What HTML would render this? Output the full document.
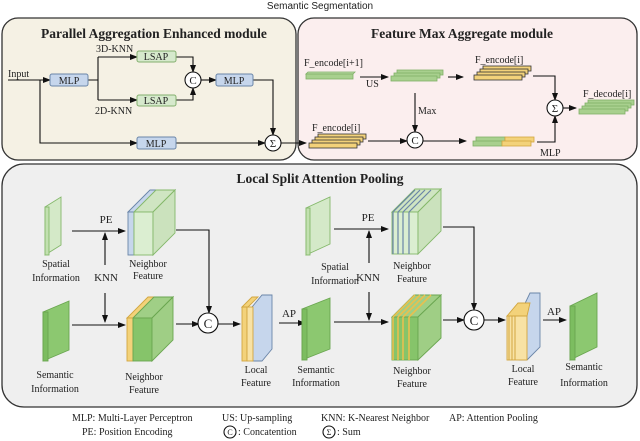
<!DOCTYPE html>
<html><head><meta charset="utf-8"><style>
html,body{margin:0;padding:0;background:#fff;}
svg{display:block;}
text{font-family:"Liberation Serif",serif;font-size:10px;fill:#222;}
.s{font-family:"Liberation Sans",sans-serif;}
.t{font-weight:bold;font-size:13.5px;}
</style></head><body>
<svg width="640" height="441" viewBox="0 0 640 441" xmlns="http://www.w3.org/2000/svg">
<defs>
<marker id="a" markerWidth="8" markerHeight="6" refX="7" refY="3" orient="auto" markerUnits="userSpaceOnUse"><path d="M0,0 L8,3 L0,6 z" fill="#111"/></marker>
</defs>
<text x="320" y="9" text-anchor="middle" class="s" style="font-size:10px">Semantic Segmentation</text>
<!-- panels -->
<rect x="2" y="18" width="294" height="142" rx="16" fill="#f5f1e4" stroke="#333" stroke-width="1.3"/>
<rect x="298" y="18" width="339" height="142" rx="16" fill="#fbeeee" stroke="#333" stroke-width="1.3"/>
<rect x="2" y="164" width="635" height="243" rx="22" fill="#efefef" stroke="#333" stroke-width="1.3"/>
<text x="154" y="38" text-anchor="middle" class="t">Parallel Aggregation Enhanced module</text>
<text x="462" y="38" text-anchor="middle" class="t">Feature Max Aggregate module</text>
<text x="320" y="183" text-anchor="middle" class="t">Local Split Attention Pooling</text>

<g stroke="#111" stroke-width="1.1" fill="none">
<!-- left module -->
<path d="M8,80 H50" marker-end="url(#a)"/>
<path d="M88,80 H98 M98,57 V100"/>
<path d="M98,57 H137" marker-end="url(#a)"/>
<path d="M98,100 H137" marker-end="url(#a)"/>
<path d="M176,57 H193 V72" marker-end="url(#a)"/>
<path d="M176,100 H193 V88" marker-end="url(#a)"/>
<path d="M201,80 H216" marker-end="url(#a)"/>
<path d="M253,80 H273 V135" marker-end="url(#a)"/>
<path d="M40,80 V143 H137" marker-end="url(#a)"/>
<path d="M176,143 H265" marker-end="url(#a)"/>
<path d="M281,143 H306" marker-end="url(#a)"/>
<!-- right module -->
<path d="M360,77 H388" marker-end="url(#a)"/>
<path d="M448,77 H463" marker-end="url(#a)"/>
<path d="M533,76 H555 V100" marker-end="url(#a)"/>
<path d="M563,108 H576" marker-end="url(#a)"/>
<path d="M415,93 V132" marker-end="url(#a)"/>
<path d="M368,141 H407" marker-end="url(#a)"/>
<path d="M423,141 H466" marker-end="url(#a)"/>
<path d="M537,142 H555 V116" marker-end="url(#a)"/>
<!-- bottom left -->
<path d="M72,231 H125" marker-end="url(#a)"/>
<path d="M105,265 V233" marker-end="url(#a)"/>
<path d="M105,293 V322" marker-end="url(#a)"/>
<path d="M72,325 H125" marker-end="url(#a)"/>
<path d="M176,230 H209 V313" marker-end="url(#a)"/>
<path d="M176,324 H199" marker-end="url(#a)"/>
<path d="M218,324 H240" marker-end="url(#a)"/>
<path d="M279,323 H305" marker-end="url(#a)"/>
<!-- bottom right -->
<path d="M334,229 H388" marker-end="url(#a)"/>
<path d="M369,263 V231" marker-end="url(#a)"/>
<path d="M369,292 V320" marker-end="url(#a)"/>
<path d="M334,322 H388" marker-end="url(#a)"/>
<path d="M443,227 H474 V310" marker-end="url(#a)"/>
<path d="M443,320 H464" marker-end="url(#a)"/>
<path d="M484,320 H505" marker-end="url(#a)"/>
<path d="M543,320 H566" marker-end="url(#a)"/>
</g>

<!-- boxes -->
<g stroke-width="1">
<rect x="50" y="74" width="38" height="12" rx="2" fill="#c6d6ec" stroke="#6a85a8"/>
<rect x="216" y="74" width="37" height="12" rx="2" fill="#c6d6ec" stroke="#6a85a8"/>
<rect x="137" y="137" width="39" height="12" rx="2" fill="#c6d6ec" stroke="#6a85a8"/>
<rect x="137" y="51" width="39" height="11" rx="2" fill="#d6e9cc" stroke="#84b06e"/>
<rect x="137" y="95" width="39" height="11" rx="2" fill="#d6e9cc" stroke="#84b06e"/>
</g>
<text x="69" y="84" text-anchor="middle">MLP</text>
<text x="234" y="84" text-anchor="middle">MLP</text>
<text x="156" y="147" text-anchor="middle">MLP</text>
<text x="156" y="60" text-anchor="middle">LSAP</text>
<text x="156" y="104" text-anchor="middle">LSAP</text>
<text x="8" y="77">Input</text>
<text x="96" y="52">3D-KNN</text>
<text x="95" y="114">2D-KNN</text>

<!-- circles -->
<g fill="#fff" stroke="#111" stroke-width="1.1">
<circle cx="193" cy="80" r="8"/><circle cx="273" cy="143" r="8"/>
<circle cx="415" cy="140" r="8"/><circle cx="555" cy="108" r="8"/>
<circle cx="208" cy="323" r="10"/><circle cx="474" cy="320" r="10"/>
<circle cx="230" cy="432" r="6"/><circle cx="329" cy="432" r="6"/>
</g>
<text x="193" y="84" text-anchor="middle" style="font-size:11px">C</text>
<text x="273" y="147" text-anchor="middle" style="font-size:11px">Σ</text>
<text x="415" y="144" text-anchor="middle" style="font-size:11px">C</text>
<text x="555" y="112" text-anchor="middle" style="font-size:11px">Σ</text>
<text x="208" y="328" text-anchor="middle" style="font-size:13px">C</text>
<text x="474" y="325" text-anchor="middle" style="font-size:13px">C</text>

<!-- right module bars -->
<g stroke-width="0.8">
<polygon points="306,74 353,74 355,72 308,72" fill="#b9d9a4" stroke="#7fb067"/>
<rect x="306" y="74" width="47" height="5" fill="#a8d08e" stroke="#7fb067"/>
<g fill="#a8d08e" stroke="#7fb067">
<rect x="397" y="70" width="46" height="5"/><rect x="394" y="73" width="46" height="5"/><rect x="391" y="76" width="46" height="5"/>
</g>
<g fill="#f3d27a" stroke="#333">
<rect x="483" y="66" width="48" height="5"/><rect x="480" y="69" width="48" height="5"/><rect x="477" y="72" width="48" height="5"/><rect x="474" y="75" width="48" height="5"/>
</g>
<g fill="#f3d27a" stroke="#333">
<rect x="318" y="134" width="48" height="5"/><rect x="315" y="137" width="48" height="5"/><rect x="312" y="140" width="48" height="5"/><rect x="309" y="143" width="48" height="5"/>
</g>
<g fill="#a8d08e" stroke="#7fb067">
<rect x="588" y="100" width="46" height="5"/><rect x="585" y="103" width="46" height="5"/><rect x="582" y="106" width="46" height="5"/><rect x="579" y="109" width="46" height="5"/>
</g>
<g stroke-width="0.8">
<rect x="476" y="137" width="29" height="5" fill="#a8d08e" stroke="#7fb067"/><rect x="505" y="137" width="29" height="5" fill="#f3d27a" stroke="#d2a640"/>
<rect x="473" y="141" width="29" height="5" fill="#a8d08e" stroke="#7fb067"/><rect x="502" y="141" width="29" height="5" fill="#f3d27a" stroke="#d2a640"/>
</g>
</g>
<text x="304" y="66">F_encode[i+1]</text>
<text x="366" y="87">US</text>
<text x="475" y="63">F_encode[i]</text>
<text x="312" y="131">F_encode[i]</text>
<text x="418" y="114">Max</text>
<text x="583" y="97">F_decode[i]</text>
<text x="540" y="156">MLP</text>

<!-- bottom: slabs -->
<g stroke-width="0.9">
<!-- spatial left -->
<polygon points="45,207 61,197 61,245 45,255" fill="#d4e9c8" stroke="#84b86a"/>
<rect x="45" y="207" width="4" height="48" fill="#c2e0b0" stroke="#84b86a"/>
<!-- semantic left -->
<polygon points="43,312 69,301 69,350 43,361" fill="#8cc870" stroke="#6aa650"/>
<rect x="43" y="312" width="5" height="49" fill="#7cbd60" stroke="#6aa650"/>
<!-- semantic mid -->
<polygon points="302,309 330,298 330,349 302,360" fill="#8cc870" stroke="#6aa650"/>
<rect x="302" y="309" width="5" height="51" fill="#7cbd60" stroke="#6aa650"/>
<!-- spatial right -->
<polygon points="306,208 330,197 330,244 306,255" fill="#d4e9c8" stroke="#84b86a"/>
<rect x="306" y="208" width="4" height="47" fill="#c2e0b0" stroke="#84b86a"/>
<!-- semantic right -->
<polygon points="570,306 597,293 597,347 570,360" fill="#8cc870" stroke="#6aa650"/>
<rect x="570" y="306" width="5" height="54" fill="#7cbd60" stroke="#6aa650"/>

<!-- neighbor top left cube -->
<polygon points="128,212 150,190 175,190 153,212" fill="#c6d6ec" stroke="#6a85a8"/>
<polygon points="134,212 156,190 175,190 153,212" fill="#cfe5c2" stroke="#84b86a"/>
<rect x="128" y="212" width="6" height="43" fill="#c6d6ec" stroke="#6a85a8"/>
<rect x="134" y="212" width="19" height="43" fill="#dbeed1" stroke="#84b86a"/>
<polygon points="153,212 175,190 175,233 153,255" fill="#cbe2bd" stroke="#84b86a"/>
<!-- neighbor bottom left cube -->
<polygon points="127,318 148,297 173,297 152,318" fill="#f3d27a" stroke="#d2a640"/>
<polygon points="133,318 154,297 173,297 152,318" fill="#a0cf86" stroke="#6aa650"/>
<rect x="127" y="318" width="6" height="43" fill="#f3d27a" stroke="#d2a640"/>
<rect x="133" y="318" width="19" height="43" fill="#86c46a" stroke="#6aa650"/>
<polygon points="152,318 173,297 173,340 152,361" fill="#9fce85" stroke="#6aa650"/>
<!-- local feature left -->
<polygon points="252,307 262,295 272,295 272,349 262,361 252,361" fill="#c6d6ec" stroke="#6a85a8"/>
<rect x="242" y="307" width="5" height="54" fill="#f3d27a" stroke="#d2a640"/>
<rect x="247" y="307" width="6" height="54" fill="#f8e2a4" stroke="#d2a640"/>
<polygon points="242,307 252,297 258,297 248,307" fill="#f3d27a" stroke="#d2a640"/>

<!-- neighbor top right cube -->
<polygon points="392,212 415,189 441,189 418,212" fill="#cfe5c2" stroke="#84b86a"/>
<rect x="392" y="212" width="26" height="42" fill="#dbeed1" stroke="#84b86a"/>
<polygon points="418,212 441,189 441,231 418,254" fill="#cbe2bd" stroke="#84b86a"/>
<g stroke="#6a85a8" stroke-width="1.2">
<path d="M393,212 V254 M398,212 V254 M403,212 V254 M409,212 V254 M393,212 L415,190 M398,212 L420,190 M403,212 L425,190 M409,212 L431,190"/>
</g>
<!-- neighbor bottom right cube -->
<polygon points="392,317 414,295 441,295 418,317" fill="#a0cf86" stroke="#6aa650"/>
<rect x="392" y="317" width="26" height="43" fill="#86c46a" stroke="#6aa650"/>
<polygon points="418,317 441,295 441,338 418,360" fill="#9fce85" stroke="#6aa650"/>
<g stroke="#e8c050" stroke-width="1.6">
<path d="M393,317 V360 M398,317 V360 M403,317 V360 M409,317 V360 M393,317 L415,295 M398,317 L420,295 M403,317 L425,295 M409,317 L431,295"/>
</g>
<!-- local feature right -->
<polygon points="519,316 530,293 540,293 540,347 527,360 519,360" fill="#c6d6ec" stroke="#6a85a8"/>
<rect x="507" y="316" width="20" height="44" fill="#f8e2a4" stroke="#d2a640"/>
<polygon points="507,316 518,303 530,303 527,316" fill="#f3d27a" stroke="#d2a640"/>
<path d="M509,316 V360 M512,316 V360 M515,316 V360" stroke="#d2a640" stroke-width="1"/>
</g>

<!-- bottom labels -->
<g text-anchor="middle">
<text x="56" y="267">Spatial</text><text x="56" y="281">Information</text>
<text x="55" y="378">Semantic</text><text x="55" y="392">Information</text>
<text x="148" y="267">Neighbor</text><text x="148" y="279">Feature</text>
<text x="144" y="380">Neighbor</text><text x="144" y="393">Feature</text>
<text x="256" y="373">Local</text><text x="256" y="386">Feature</text>
<text x="316" y="373">Semantic</text><text x="316" y="386">Information</text>
<text x="412" y="269">Neighbor</text><text x="412" y="282">Feature</text>
<text x="412" y="374">Neighbor</text><text x="412" y="387">Feature</text>
<text x="523" y="372">Local</text><text x="523" y="385">Feature</text>
<text x="584" y="370">Semantic</text><text x="584" y="386">Information</text>
<text x="335" y="270">Spatial</text><text x="335" y="284">Information</text>
</g>
<text x="106" y="223" text-anchor="middle" style="font-size:11px">PE</text>
<text x="106" y="281" text-anchor="middle" style="font-size:11px">KNN</text>
<text x="368" y="221" text-anchor="middle" style="font-size:11px">PE</text>
<text x="368" y="281" text-anchor="middle" style="font-size:11px">KNN</text>
<text x="289" y="317" text-anchor="middle" style="font-size:11px">AP</text>
<text x="554" y="315" text-anchor="middle" style="font-size:11px">AP</text>

<!-- legend -->
<text x="72" y="421">MLP: Multi-Layer Perceptron</text>
<text x="82" y="435">PE: Position Encoding</text>
<text x="222" y="421">US: Up-sampling</text>
<text x="230" y="435" text-anchor="middle" style="font-size:8px">C</text>
<text x="238" y="435">: Concatention</text>
<text x="321" y="421">KNN: K-Nearest Neighbor</text>
<text x="449" y="421">AP: Attention Pooling</text>
<text x="329" y="435" text-anchor="middle" style="font-size:8px">Σ</text>
<text x="337" y="435">: Sum</text>
</svg>
</body></html>
